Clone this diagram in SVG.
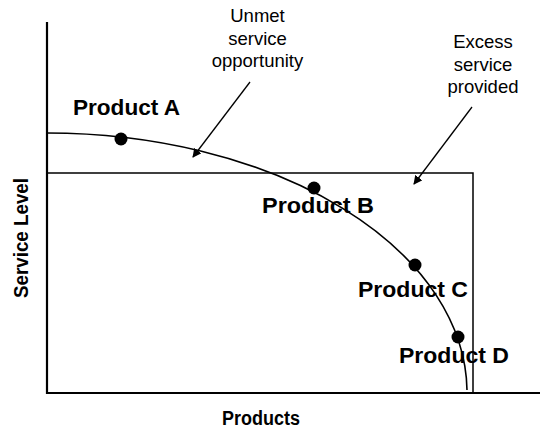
<svg xmlns="http://www.w3.org/2000/svg" width="540" height="430" viewBox="0 0 540 430">
  <style>
    .axis { stroke: #000; stroke-width: 2.2; fill: none; }
    .box { stroke: #000; stroke-width: 1.5; fill: none; }
    .curve { stroke: #000; stroke-width: 1.6; fill: none; }
    .lead { stroke: #000; stroke-width: 1.3; fill: none; marker-end: url(#head); }
    .dot { fill: #000; }
    .note { font-family: "Liberation Sans", Arial, sans-serif; font-size: 18.5px; fill: #000; text-anchor: middle; }
    .prod { font-family: "Liberation Sans", Arial, sans-serif; font-size: 22px; font-weight: bold; fill: #000; }
    .title { font-family: "Liberation Sans", Arial, sans-serif; font-size: 20px; font-weight: bold; fill: #000; text-anchor: middle; }
  </style>
  <defs>
    <marker id="head" viewBox="0 0 10 10" refX="9" refY="5" markerWidth="9" markerHeight="9" markerUnits="userSpaceOnUse" orient="auto">
      <path d="M0,0 L10,5 L0,10 Z" fill="#000"/>
    </marker>
  </defs>

  <!-- axes -->
  <g id="axes">
    <line class="axis" x1="47" y1="22" x2="47" y2="394"/>
    <line class="axis" x1="46" y1="393" x2="540" y2="393"/>
  </g>

  <!-- target service box -->
  <g id="service-box">
    <polyline class="box" points="47,173 473,173 473,393"/>
  </g>

  <!-- service level curve -->
  <g id="curve">
    <path class="curve" d="M47,133 A420,260 0 0 1 467,390"/>
  </g>

  <g id="product-a">
    <circle class="dot" cx="121" cy="139" r="6.5"/>
    <text class="prod" x="73" y="115" textLength="107" lengthAdjust="spacingAndGlyphs">Product A</text>
  </g>
  <g id="product-b">
    <circle class="dot" cx="314" cy="188" r="6.5"/>
    <text class="prod" x="262" y="213" textLength="112" lengthAdjust="spacingAndGlyphs">Product B</text>
  </g>
  <g id="product-c">
    <circle class="dot" cx="415" cy="265" r="6.5"/>
    <text class="prod" x="358" y="297" textLength="110" lengthAdjust="spacingAndGlyphs">Product C</text>
  </g>
  <g id="product-d">
    <circle class="dot" cx="458" cy="337" r="6.5"/>
    <text class="prod" x="399" y="363" textLength="110" lengthAdjust="spacingAndGlyphs">Product D</text>
  </g>

  <g id="unmet-note">
    <text class="note" x="257.5" y="22">Unmet</text>
    <text class="note" x="257.5" y="44.5">service</text>
    <text class="note" x="257.5" y="67">opportunity</text>
  </g>
  <g id="excess-note">
    <text class="note" x="483" y="48">Excess</text>
    <text class="note" x="483" y="70.5">service</text>
    <text class="note" x="483" y="93">provided</text>
  </g>

  <!-- leader arrows -->
  <g id="connectors">
    <line class="lead" x1="250" y1="82" x2="193" y2="157"/>
    <line class="lead" x1="472" y1="107" x2="414" y2="184"/>
  </g>

  <g id="axis-labels">
    <text class="title" x="261" y="425" textLength="78" lengthAdjust="spacingAndGlyphs">Products</text>
    <text class="title" transform="translate(28,238) rotate(-90)" textLength="120" lengthAdjust="spacingAndGlyphs">Service Level</text>
  </g>
</svg>
